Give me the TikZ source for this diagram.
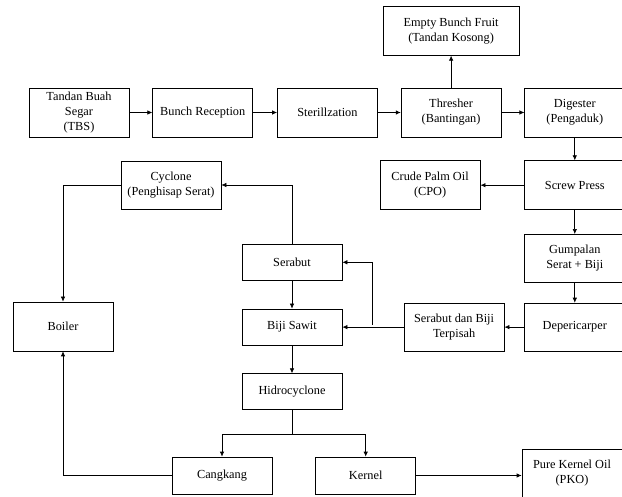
\documentclass[tikz,border=0pt]{standalone}
\usepackage{fontspec}
\setmainfont{Liberation Serif}
\usepackage{tikz}
\usetikzlibrary{arrows.meta, positioning}
\tikzset{
    process/.style={rectangle, minimum width=100pt, minimum height=49pt, inner sep=2pt, align=center, draw=black, line width=0.7pt, font=\fontsize{12.3}{15}\selectfont},
    smallprocess/.style={process, minimum height=36pt},
    arrow/.style={line width=0.7pt, -{Latex[length=5pt,width=4.5pt]}},
    line/.style={line width=0.7pt},
}
\begin{document}
\begin{tikzpicture}[x=1pt,y=-1pt,node distance=23pt]
  \useasboundingbox (0,0) rectangle (622,497);

  % baris atas
  \node[process] (tbs) at (79,112.5) {Tandan Buah\\Segar\\(TBS)};
  \node[process] (reception) [right=of tbs] {Bunch Reception};
  \node[process] (steril) [right=24pt of reception] {Sterillzation};
  \node[process] (thresher) [right=of steril] {Thresher\\(Bantingan)};
  \node[process] (digester) [right=of thresher] {Digester\\(Pengaduk)};
  \node[process, minimum width=136pt] (tankos) [above=32pt of thresher] {Empty Bunch Fruit\\(Tandan Kosong)};

  % kolom kanan
  \node[process] (press) [below=of digester] {Screw Press};
  \node[process] (cpo) [left=44pt of press] {Crude Palm Oil\\(CPO)};
  \node[process, minimum height=48pt] (gumpalan) [below=24pt of press] {Gumpalan\\Serat + Biji};
  \node[process, minimum height=48pt] (depericarper) [below=20pt of gumpalan] {Depericarper};
  \node[process, minimum height=48pt] (terpisah) [left=20pt of depericarper] {Serabut dan Biji\\Terpisah};

  % kolom tengah
  \node[smallprocess] (biji) at (292,327) {Biji Sawit};
  \node[smallprocess] (serabut) [above=28pt of biji] {Serabut};
  \node[smallprocess] (hidro) [below=28pt of biji] {Hidrocyclone};
  \node[process, minimum height=48pt] (cyclone) at (171,185) {Cyclone\\(Penghisap Serat)};
  \node[process] (boiler) at (63,326.5) {Boiler};

  % baris bawah
  \node[smallprocess, minimum height=37pt] (cangkang) at (222,475.5) {Cangkang};
  \node[smallprocess, minimum height=37pt] (kernel) [right=43pt of cangkang] {Kernel};
  \node[process] (pko) at (572,473.5) {Pure Kernel Oil\\(PKO)};

  \coordinate[below=24pt of hidro] (fork);
  \coordinate (split) at (372,325);

  \draw[arrow] (tbs) -- (reception);
  \draw[arrow] (reception) -- (steril);
  \draw[arrow] (steril) -- (thresher);
  \draw[arrow] (thresher) -- (digester);
  \draw[arrow] (thresher) -- (tankos);
  \draw[arrow] (digester) -- (press);
  \draw[arrow] (press) -- (cpo);
  \draw[arrow] (press) -- (gumpalan);
  \draw[arrow] (gumpalan) -- (depericarper);
  \draw[arrow] (depericarper) -- (terpisah);
  \draw[arrow] (terpisah.west) -- (biji.east |- terpisah.west);
  \draw[arrow] (split) |- (serabut.east);
  \draw[arrow] (serabut.north) |- (cyclone.east);
  \draw[arrow] (cyclone.west) -| (boiler.north);
  \draw[arrow] (serabut) -- (biji);
  \draw[arrow] (biji) -- (hidro);
  \draw[line] (hidro.south) -- (fork);
  \draw[arrow] (fork) -| (cangkang.north);
  \draw[arrow] (fork) -| (kernel.north);
  \draw[arrow] (cangkang.west) -| (boiler.south);
  \draw[arrow] (kernel) -- (kernel -| pko.west);
\end{tikzpicture}
\end{document}
